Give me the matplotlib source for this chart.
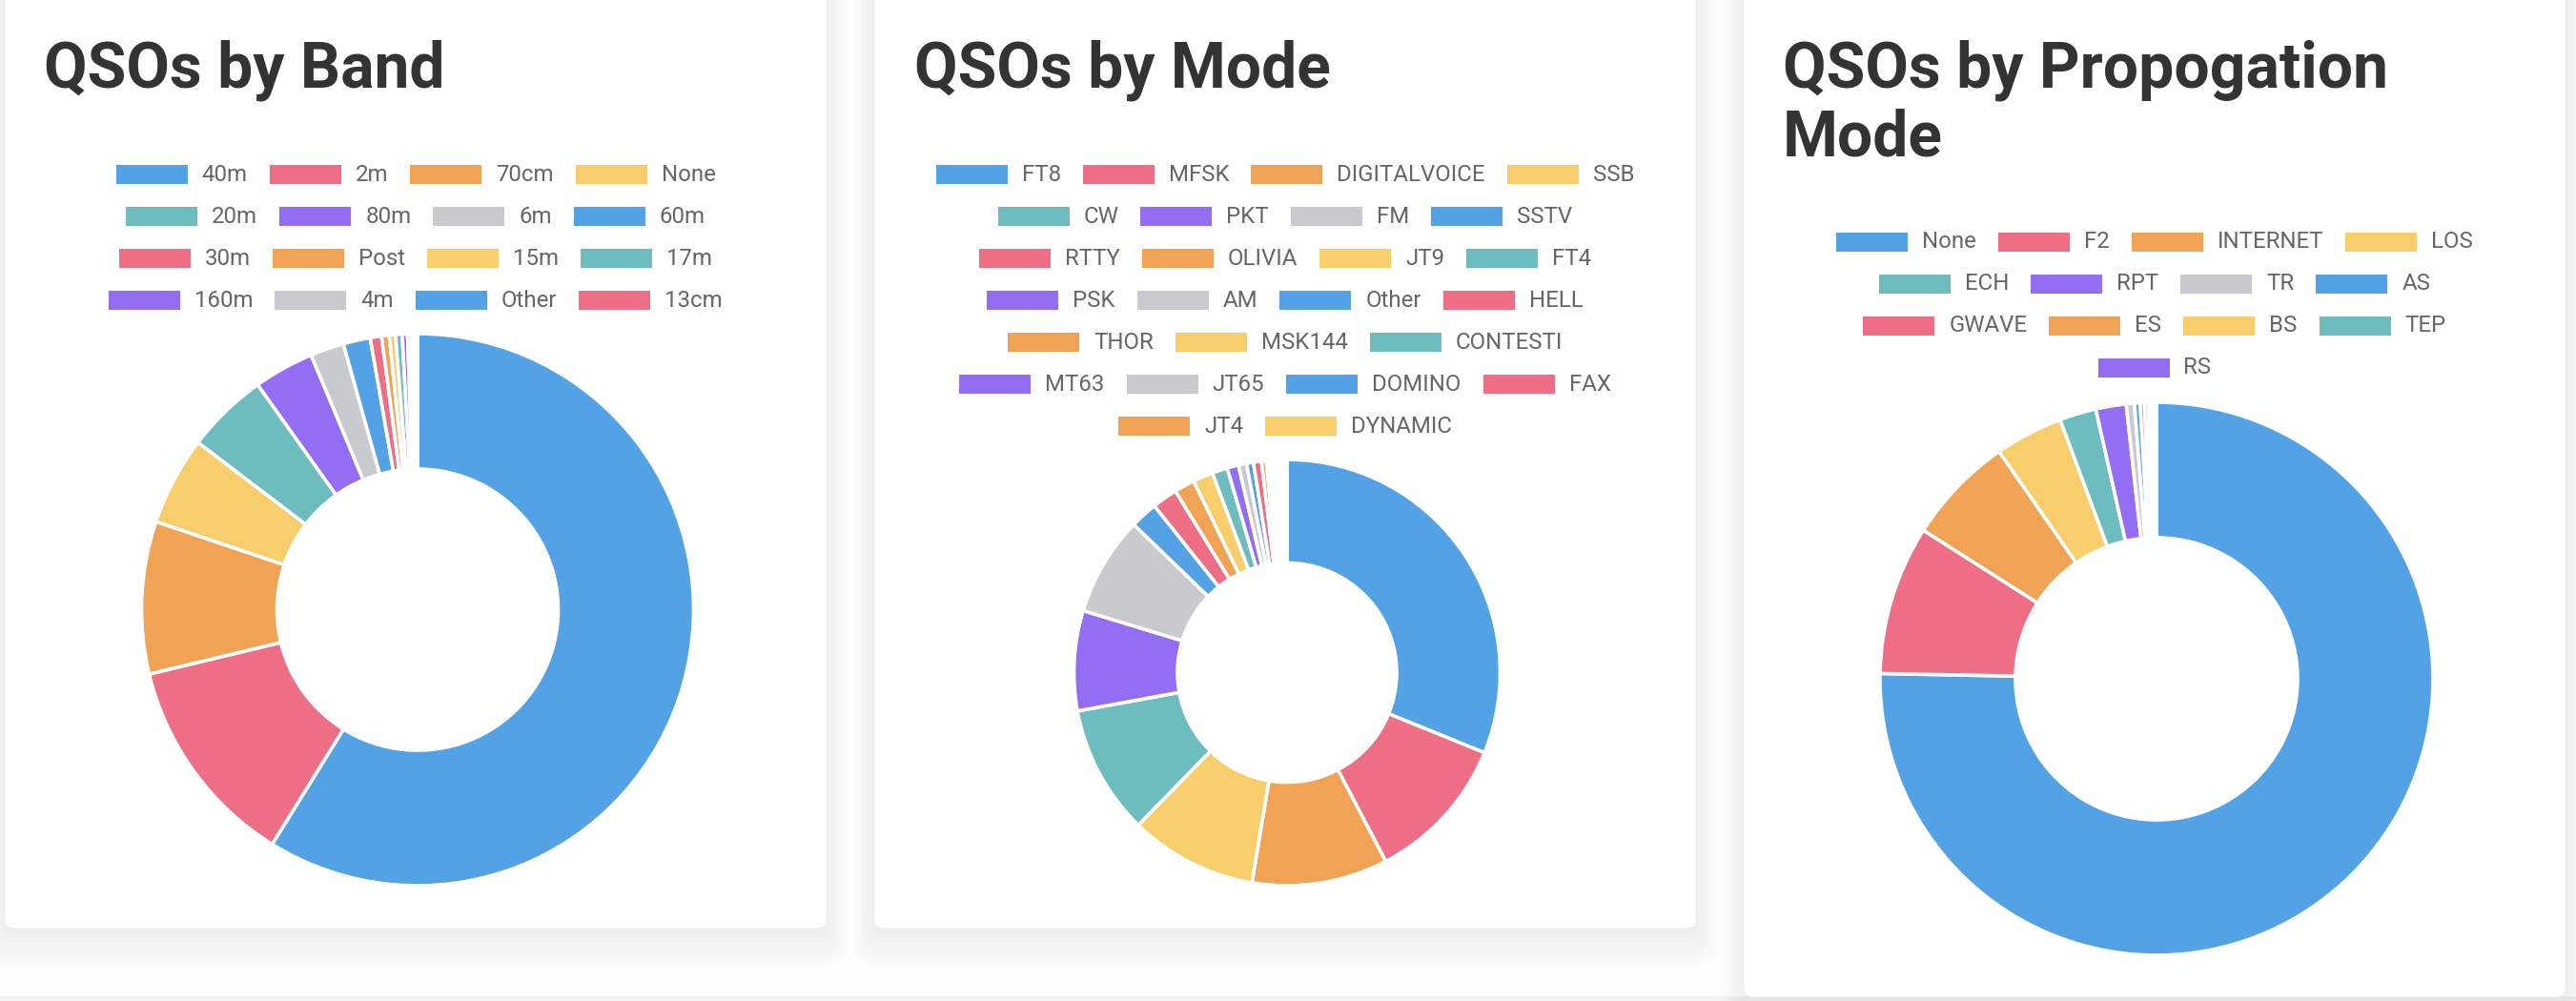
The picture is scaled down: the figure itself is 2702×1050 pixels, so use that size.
import matplotlib.pyplot as plt
from matplotlib.patches import FancyBboxPatch

W, H = 2702, 1050

band_labels = ["40m", "2m", "70cm", "None", "20m", "80m", "6m", "60m",
               "30m", "Post", "15m", "17m", "160m", "4m", "Other", "13cm"]
band_counts = [2118, 447, 321, 187, 173, 127, 71, 57,
               24, 16, 13, 14, 11, 8, 7, 6]

mode_labels = ["FT8", "MFSK", "DIGITALVOICE", "SSB", "CW", "PKT", "FM", "SSTV",
               "RTTY", "OLIVIA", "JT9", "FT4", "PSK", "AM", "Other", "HELL",
               "THOR", "MSK144", "CONTESTI", "MT63", "JT65", "DOMINO", "FAX",
               "JT4", "DYNAMIC"]
mode_counts = [1121, 403, 371, 348, 353, 273, 271, 75,
               69, 56, 55, 42, 31, 22, 19, 22,
               13, 10, 9, 8, 7, 6, 6, 5, 5]

prop_labels = ["None", "F2", "INTERNET", "LOS", "ECH", "RPT", "TR", "AS",
               "GWAVE", "ES", "BS", "TEP", "RS"]
prop_counts = [2711, 314, 228, 143, 77, 64, 17, 12, 9, 8, 7, 5, 5]

titles = ["QSOs by Band", "QSOs by Mode", "QSOs by Propogation\nMode"]

palette = ["#53a2e5", "#ee6e85", "#f0a355", "#f7ce6b", "#6dbdbf", "#936ef2", "#c9cacf"]

FONT = "Roboto"

fig = plt.figure(figsize=(W / 100, H / 100), dpi=100)
fig.patch.set_facecolor("#fefefe")
ax = fig.add_axes([0, 0, 1, 1])
ax.set_axis_off()
renderer = fig.canvas.get_renderer()

# thin grey strip along the bottom of the page
ax.add_patch(plt.Rectangle((0, 0), W, 5, fc="#f3f3f3", ec="none", zorder=0))

# card boxes: left, right, bottom (pixels from top)
cards = [(5, 867, 974), (917, 1779, 974), (1829, 2691, 1046)]
for left, right, bottom in cards:
    for k in range(1, 16):
        sh = FancyBboxPatch((left - k * 1.6, H - bottom - 4 - k * 2.6), right - left + k * 3.2,
                            bottom + 60, boxstyle="round,pad=0,rounding_size=%d" % (10 + k),
                            fc="black", ec="none", alpha=0.0045, zorder=1)
        ax.add_patch(sh)
    card = FancyBboxPatch((left, H - bottom), right - left, bottom + 40,
                          boxstyle="round,pad=0,rounding_size=10",
                          fc="white", ec="#efefef", lw=0.6, zorder=2)
    ax.add_patch(card)


def draw_legend(labels, cx, top, maxw=750):
    items = []
    for i, lab in enumerate(labels):
        t = ax.text(0, 0, lab, fontsize=17.3, color="#666666", family=FONT,
                    ha="left", va="center", zorder=5)
        w = t.get_window_extent(renderer).width
        items.append((t, 75 + 15 + w, palette[i % 7]))
    rows, cur, cw = [], [], 0
    for it in items:
        add = it[1] if not cur else cw + 23 + it[1]
        if cur and add > maxw:
            rows.append((cur, cw))
            cur, cw = [it], it[1]
        else:
            cur.append(it)
            cw = add
    rows.append((cur, cw))
    for r, (row, rw) in enumerate(rows):
        y = H - (top + 44 * r)
        x = cx - rw / 2
        for t, iw, col in row:
            ax.add_patch(plt.Rectangle((x, y - 10), 75, 20, fc=col, ec="none", zorder=5))
            t.set_position((x + 90, y))
            x += iw + 23


panels = [
    (band_labels, band_counts, 46, 436, 183, (438, 639.5), 289.5, 147.5),
    (mode_labels, mode_counts, 959, 1348, 183, (1350, 705.5), 223.5, 115),
    (prop_labels, prop_counts, 1870, 2260, 254, (2262, 712), 290, 148),
]

for i, (labels, counts, tx, lcx, ltop, (cx, cy), r, rin) in enumerate(panels):
    for k, line in enumerate(titles[i].split("\n")):
        ax.text(tx, H - 91 - 72 * k, line, fontsize=47.5, fontweight="bold", color="#333333",
                family=FONT, ha="left", va="baseline", zorder=5)
    draw_legend(labels, lcx, ltop)
    colors = [palette[j % 7] for j in range(len(counts))]
    wedges, _ = ax.pie(counts, colors=colors, center=(cx, H - cy), radius=r,
                       startangle=90, counterclock=False,
                       wedgeprops=dict(width=r - rin, edgecolor="white", linewidth=2.6))
    for w_ in wedges:
        w_.set_zorder(4)

ax.set_xlim(0, W)
ax.set_ylim(0, H)
ax.set_aspect("auto")
ax.set_position([0, 0, 1, 1])

fig.savefig("out.png", dpi=100, facecolor=fig.get_facecolor())
